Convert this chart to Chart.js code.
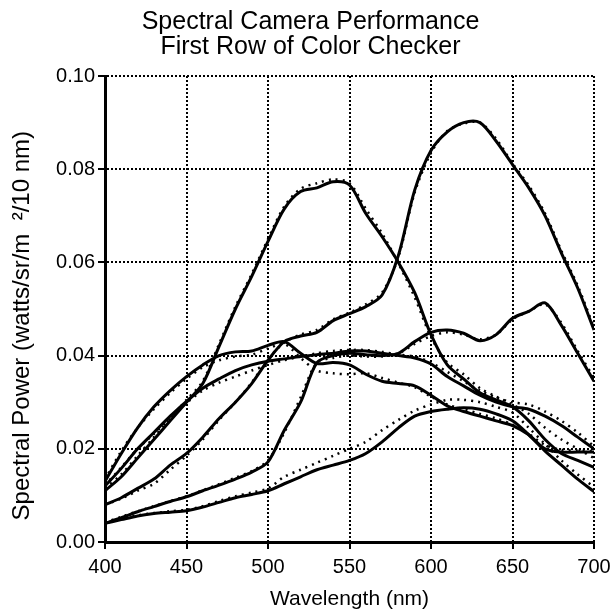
<!DOCTYPE html>
<html>
<head>
<meta charset="utf-8">
<script src="https://cdn.jsdelivr.net/npm/chart.js@4"></script>
<style>
  html, body { margin: 0; padding: 0; background: #fff; }
  #wrap { width: 611px; height: 616px; }
</style>
</head>
<body>
<div id="wrap"><canvas id="spectralChart" width="611" height="616"></canvas></div>
<script>
// wavelengths (nm)
const wavelengths = [400, 410, 420, 430, 440, 450, 460, 470, 480, 490, 500, 510, 520, 530, 540, 550,
                     560, 570, 580, 590, 600, 610, 620, 630, 640, 650, 660, 670, 680, 690, 700];

// solid = measured, dotted = camera estimate
const greenSolid  = [0.011, 0.014, 0.018, 0.022, 0.026, 0.030, 0.034, 0.042, 0.050, 0.057, 0.0645, 0.0715, 0.0752, 0.0760, 0.0773, 0.0766,
                     0.0705, 0.0655, 0.0600, 0.0535, 0.0445, 0.0380, 0.0350, 0.0320, 0.0305, 0.0290, 0.0260, 0.0220, 0.0190, 0.0175, 0.0160];
const greenDotted = [0.0115, 0.0145, 0.0185, 0.0225, 0.0265, 0.0305, 0.0345, 0.0425, 0.0505, 0.0575, 0.0650, 0.0720, 0.0758, 0.0770, 0.0778, 0.0770,
                     0.0715, 0.0662, 0.0598, 0.0525, 0.0440, 0.0385, 0.0360, 0.0330, 0.0312, 0.0295, 0.0275, 0.0245, 0.0220, 0.0200, 0.0180];

const redSolid  = [0.0080, 0.0095, 0.0115, 0.0135, 0.0165, 0.0190, 0.0225, 0.0265, 0.0300, 0.0340, 0.0390, 0.0430, 0.0442, 0.0450, 0.0475, 0.0490,
                   0.0505, 0.0530, 0.0615, 0.0755, 0.0840, 0.0880, 0.0900, 0.0900, 0.0860, 0.0810, 0.0760, 0.0700, 0.0620, 0.0545, 0.0455];
const redDotted = [0.0080, 0.0093, 0.0110, 0.0125, 0.0155, 0.0185, 0.0220, 0.0262, 0.0300, 0.0342, 0.0392, 0.0428, 0.0445, 0.0455, 0.0478, 0.0492,
                   0.0510, 0.0535, 0.0612, 0.0750, 0.0835, 0.0882, 0.0898, 0.0900, 0.0865, 0.0812, 0.0765, 0.0705, 0.0625, 0.0550, 0.0460];

const skySolid  = [0.0130, 0.0190, 0.0245, 0.0290, 0.0325, 0.0355, 0.0380, 0.0400, 0.0408, 0.0410, 0.0422, 0.0430, 0.0405, 0.0383, 0.0385, 0.0380,
                   0.0360, 0.0345, 0.0340, 0.0335, 0.0315, 0.0292, 0.0280, 0.0270, 0.0260, 0.0250, 0.0230, 0.0200, 0.0193, 0.0193, 0.0193];
const skyDotted = [0.0135, 0.0195, 0.0245, 0.0285, 0.0320, 0.0350, 0.0375, 0.0390, 0.0398, 0.0402, 0.0415, 0.0425, 0.0395, 0.0368, 0.0362, 0.0360,
                   0.0362, 0.0352, 0.0342, 0.0332, 0.0312, 0.0295, 0.0285, 0.0275, 0.0265, 0.0252, 0.0232, 0.0208, 0.0198, 0.0196, 0.0195];

const flatSolid  = [0.0120, 0.0158, 0.0200, 0.0235, 0.0270, 0.0302, 0.0330, 0.0350, 0.0368, 0.0380, 0.0388, 0.0393, 0.0398, 0.0402, 0.0405, 0.0410,
                    0.0410, 0.0405, 0.0400, 0.0395, 0.0382, 0.0355, 0.0335, 0.0315, 0.0300, 0.0290, 0.0285, 0.0270, 0.0250, 0.0225, 0.0200];
const flatDotted = [0.0122, 0.0160, 0.0200, 0.0232, 0.0265, 0.0298, 0.0325, 0.0342, 0.0355, 0.0368, 0.0380, 0.0390, 0.0398, 0.0405, 0.0410, 0.0412,
                    0.0412, 0.0408, 0.0402, 0.0398, 0.0385, 0.0365, 0.0345, 0.0325, 0.0310, 0.0300, 0.0295, 0.0280, 0.0260, 0.0235, 0.0205];

const lateSolid  = [0.0040, 0.0052, 0.0065, 0.0076, 0.0087, 0.0097, 0.0110, 0.0122, 0.0135, 0.0150, 0.0172, 0.0240, 0.0300, 0.0385, 0.0400, 0.0405,
                    0.0402, 0.0400, 0.0405, 0.0430, 0.0450, 0.0455, 0.0448, 0.0432, 0.0445, 0.0480, 0.0495, 0.0513, 0.0465, 0.0405, 0.0345];
const lateDotted = [0.0042, 0.0054, 0.0066, 0.0077, 0.0088, 0.0098, 0.0111, 0.0124, 0.0138, 0.0152, 0.0175, 0.0235, 0.0310, 0.0385, 0.0395, 0.0400,
                    0.0398, 0.0398, 0.0405, 0.0425, 0.0442, 0.0450, 0.0445, 0.0435, 0.0445, 0.0478, 0.0495, 0.0510, 0.0470, 0.0410, 0.0352];

const lowSolid  = [0.0040, 0.0048, 0.0056, 0.0061, 0.0064, 0.0067, 0.0075, 0.0085, 0.0095, 0.0102, 0.0110, 0.0125, 0.0140, 0.0155, 0.0165, 0.0175,
                   0.0190, 0.0215, 0.0245, 0.0270, 0.0280, 0.0285, 0.0288, 0.0285, 0.0275, 0.0260, 0.0230, 0.0195, 0.0165, 0.0135, 0.0108];
const lowDotted = [0.0042, 0.0049, 0.0057, 0.0062, 0.0066, 0.0069, 0.0077, 0.0088, 0.0098, 0.0106, 0.0115, 0.0140, 0.0155, 0.0170, 0.0185, 0.0200,
                   0.0215, 0.0240, 0.0262, 0.0282, 0.0295, 0.0305, 0.0305, 0.0300, 0.0290, 0.0278, 0.0245, 0.0210, 0.0175, 0.0145, 0.0118];

const xTicks = [400, 450, 500, 550, 600, 650, 700];
const yTicks = [0.00, 0.02, 0.04, 0.06, 0.08, 0.10];

const FONT = '"Liberation Sans", Arial, Helvetica, sans-serif';

function pts(values) {
    return values.map((v, i) => ({ x: wavelengths[i], y: v }));
}

function solid(values) {
    return { data: pts(values), borderColor: '#000', borderWidth: 3, pointRadius: 0, tension: 0.3, fill: false };
}

function dotted(values) {
    return { data: pts(values), borderColor: '#000', borderWidth: 2.5, borderDash: [2, 5], pointRadius: 0, tension: 0.3, fill: false };
}

const series = [
    [greenSolid, greenDotted],
    [redSolid, redDotted],
    [skySolid, skyDotted],
    [flatSolid, flatDotted],
    [lateSolid, lateDotted],
    [lowSolid, lowDotted]
];

const datasets = [];
series.forEach(([s, d]) => {
    datasets.push(dotted(d));
    datasets.push(solid(s));
});

new Chart(document.getElementById('spectralChart'), {
    type: 'line',
    data: { datasets: datasets },
    options: {
        responsive: false,
        animation: false,
        layout: { padding: { left: 10, right: 0, top: 0, bottom: 0 } },
        plugins: {
            legend: { display: false },
            tooltip: { enabled: false },
            title: {
                display: true,
                text: ['Spectral Camera Performance', 'First Row of Color Checker'],
                color: '#000',
                font: { family: FONT, size: 25, weight: 'normal', lineHeight: 0.98 },
                padding: { top: 10, bottom: 17 }
            }
        },
        scales: {
            x: {
                type: 'linear',
                min: 400,
                max: 700,
                afterFit: s => { s.height = 74; s.paddingRight = 17; },
                afterBuildTicks: s => { s.ticks = xTicks.map(v => ({ value: v })); },
                ticks: { color: '#000', font: { family: FONT, size: 20 }, padding: 6, maxRotation: 0 },
                grid: { color: '#000', lineWidth: 2, tickLength: 7, tickWidth: 2, tickColor: '#000' },
                border: { display: true, color: '#000', width: 3, dash: [2, 2] },
                title: { display: true, text: 'Wavelength (nm)', color: '#000', font: { family: FONT, size: 21 }, padding: { top: 4, bottom: 4 } }
            },
            y: {
                min: 0,
                max: 0.1,
                afterFit: s => { s.width = 95; },
                afterBuildTicks: s => { s.ticks = yTicks.map(v => ({ value: v })); },
                ticks: { color: '#000', font: { family: FONT, size: 20 }, padding: 3, callback: v => v.toFixed(2) },
                grid: { color: '#000', lineWidth: 2, tickLength: 7, tickWidth: 2, tickColor: '#000' },
                border: { display: true, color: '#000', width: 3, dash: [2, 2] },
                // trailing spaces nudge the rotated title down, as in the original
                title: { display: true, text: 'Spectral Power (watts/sr/m  \u00B2/10 nm)     ', color: '#000', font: { family: FONT, size: 24, lineHeight: 1.0 }, padding: { top: 0, bottom: 4 } }
            }
        }
    }
});
</script>
</body>
</html>
